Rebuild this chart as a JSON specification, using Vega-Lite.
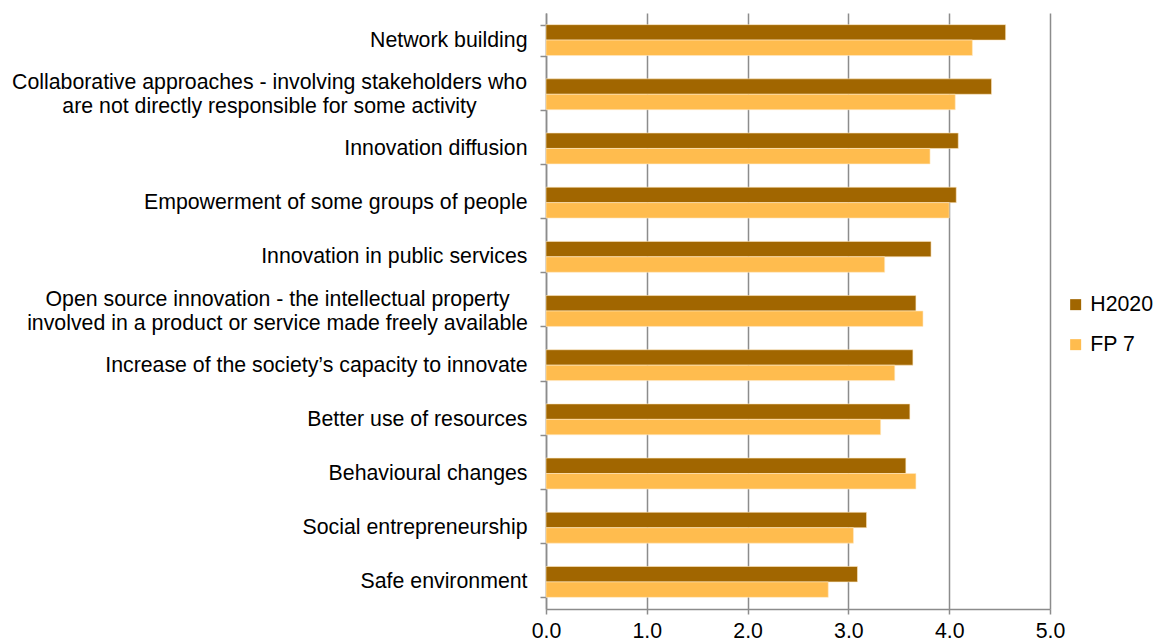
{
  "$schema": "https://vega.github.io/schema/vega-lite/v6.json",
  "autosize": "none",
  "width": 504,
  "height": 596,
  "padding": {"left": 546, "top": 13, "right": 106, "bottom": 33},
  "background": "white",
  "config": {
    "view": {"stroke": null},
    "font": "Liberation Sans",
    "axis": {"labelFont": "Liberation Sans", "labelColor": "#000000", "labelFontSize": 21.3, "domainColor": "#8c8c8c", "tickColor": "#8c8c8c", "gridColor": "#8c8c8c", "domainWidth": 1.5, "tickWidth": 1.5, "gridWidth": 1.5, "gridOpacity": 1, "title": null},
    "legend": {"labelFont": "Liberation Sans", "labelFontSize": 21.3, "labelColor": "#000000"}
  },
  "data": {
    "values": [
      {"item": "Network building", "series": "H2020", "score": 4.56},
      {"item": "Network building", "series": "FP 7", "score": 4.23},
      {"item": "Collaborative approaches - involving stakeholders who\nare not directly responsible for some activity", "series": "H2020", "score": 4.42},
      {"item": "Collaborative approaches - involving stakeholders who\nare not directly responsible for some activity", "series": "FP 7", "score": 4.06},
      {"item": "Innovation diffusion", "series": "H2020", "score": 4.09},
      {"item": "Innovation diffusion", "series": "FP 7", "score": 3.81},
      {"item": "Empowerment of some groups of people", "series": "H2020", "score": 4.07},
      {"item": "Empowerment of some groups of people", "series": "FP 7", "score": 4.0},
      {"item": "Innovation in public services", "series": "H2020", "score": 3.82},
      {"item": "Innovation in public services", "series": "FP 7", "score": 3.36},
      {"item": "Open source innovation - the intellectual property\ninvolved in a product or service made freely available", "series": "H2020", "score": 3.67},
      {"item": "Open source innovation - the intellectual property\ninvolved in a product or service made freely available", "series": "FP 7", "score": 3.74},
      {"item": "Increase of the society’s capacity to innovate", "series": "H2020", "score": 3.64},
      {"item": "Increase of the society’s capacity to innovate", "series": "FP 7", "score": 3.46},
      {"item": "Better use of resources", "series": "H2020", "score": 3.61},
      {"item": "Better use of resources", "series": "FP 7", "score": 3.32},
      {"item": "Behavioural changes", "series": "H2020", "score": 3.57},
      {"item": "Behavioural changes", "series": "FP 7", "score": 3.67},
      {"item": "Social entrepreneurship", "series": "H2020", "score": 3.18},
      {"item": "Social entrepreneurship", "series": "FP 7", "score": 3.05},
      {"item": "Safe environment", "series": "H2020", "score": 3.09},
      {"item": "Safe environment", "series": "FP 7", "score": 2.8}
    ]
  },
  "mark": {"type": "bar", "stroke": "#ffe9c4", "strokeWidth": 0.6},
  "encoding": {
    "y": {
      "field": "item",
      "type": "nominal",
      "sort": null,
      "scale": {"paddingInner": 0.43, "paddingOuter": 0.215},
      "axis": {
        "labelExpr": "split(datum.label, '\\n')",
        "labelLimit": 600,
        "labelLineHeight": 24,
        "tickBand": "extent",
        "tickSize": 6,
        "labelAlign": {"condition": {"test": "substring(datum.value, 0, 13) === 'Collaborative' || substring(datum.value, 0, 11) === 'Open source'", "value": "center"}, "value": "right"},
        "labelOffset": {"condition": {"test": "substring(datum.value, 0, 13) === 'Collaborative' || substring(datum.value, 0, 11) === 'Open source'", "value": -12}, "value": 0},
        "labelPadding": {"condition": [
          {"test": "substring(datum.value, 0, 13) === 'Collaborative'", "value": 271},
          {"test": "substring(datum.value, 0, 11) === 'Open source'", "value": 263}
        ], "value": 13}
      }
    },
    "yOffset": {"field": "series", "type": "nominal", "sort": ["H2020", "FP 7"], "scale": {"paddingInner": 0, "paddingOuter": 0}},
    "x": {
      "field": "score",
      "type": "quantitative",
      "scale": {"domain": [0, 5], "nice": false},
      "axis": {"values": [0, 1, 2, 3, 4, 5], "format": ".1f", "grid": true, "tickSize": 5, "labelPadding": 6, "labelFlush": false}
    },
    "color": {
      "field": "series",
      "type": "nominal",
      "sort": ["H2020", "FP 7"],
      "scale": {"domain": ["H2020", "FP 7"], "range": ["#A16600", "#FFBC4E"]},
      "legend": {"title": null, "orient": "none", "legendX": 519, "legendY": 281, "symbolType": "square", "symbolSize": 121, "symbolStrokeWidth": 0, "rowPadding": 18, "labelOffset": 4, "padding": 0}
    }
  }
}
